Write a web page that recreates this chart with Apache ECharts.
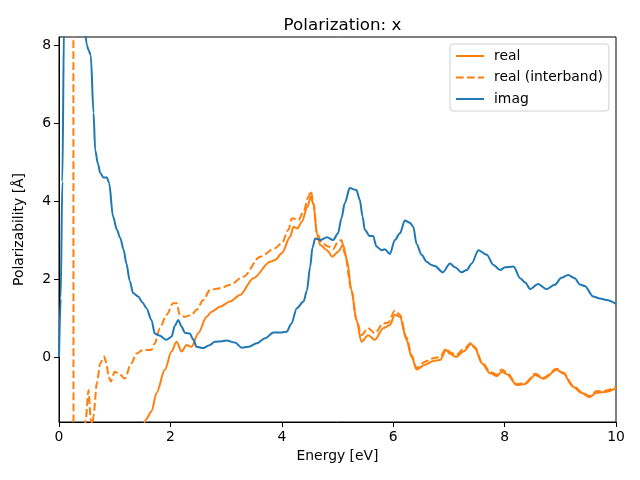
<!DOCTYPE html>
<html>
<head>
<meta charset="utf-8">
<script src="https://cdn.jsdelivr.net/npm/echarts@6/dist/echarts.min.js"></script>
<style>html,body{margin:0;padding:0;background:#fff}#c{width:640px;height:480px}</style>
</head>
<body>
<div id="c"></div>
<script>
const imagE = [0,0.03,0.06,0.09,0.15,0.3,0.45,0.5,0.53,0.57,0.62,0.65,0.7,0.74,0.8,0.86,0.9,0.97,1.04,1.1,1.16,1.21,1.27,1.33,1.42,1.5,1.57,1.66,1.72,1.8,1.93,2.02,2.08,2.14,2.2,2.26,2.35,2.41,2.47,2.59,2.7,2.8,2.9,3.01,3.16,3.28,3.4,3.55,3.7,3.85,4.0,4.09,4.17,4.27,4.39,4.45,4.51,4.55,4.6,4.69,4.81,4.92,5.01,5.07,5.13,5.22,5.34,5.4,5.45,5.49,5.58,5.64,5.7,5.79,5.85,5.94,6.03,6.12,6.21,6.3,6.36,6.42,6.51,6.6,6.69,6.75,6.89,7.02,7.11,7.23,7.32,7.41,7.53,7.68,7.8,7.92,8.01,8.16,8.28,8.37,8.46,8.6,8.75,8.9,9.02,9.14,9.26,9.35,9.44,9.59,9.71,9.83,10.0];
const imagV = [0,1.5,4.5,8.5,14,12,8.6,8.0,7.87,7.74,6.26,5.3,4.95,4.72,4.6,4.6,4.46,3.6,3.26,3.05,2.75,2.4,1.95,1.64,1.55,1.4,1.25,0.95,0.6,0.55,0.44,0.52,0.8,0.95,0.78,0.62,0.6,0.45,0.26,0.23,0.3,0.39,0.4,0.42,0.37,0.24,0.26,0.35,0.48,0.63,0.63,0.65,0.85,1.25,1.42,1.7,2.32,2.8,3.04,3.0,3.07,3.0,3.17,3.55,3.94,4.33,4.28,4.03,3.6,3.26,3.1,3.1,2.83,2.74,2.76,2.64,3.0,3.17,3.5,3.44,3.34,2.9,2.62,2.44,2.36,2.33,2.17,2.4,2.3,2.17,2.23,2.4,2.74,2.62,2.36,2.23,2.3,2.32,2.02,1.91,1.74,1.87,1.74,1.85,2.03,2.1,2.02,1.86,1.82,1.55,1.5,1.46,1.36];

const realE = [0,0.3,0.8,1.2,1.45,1.56,1.66,1.75,1.9,2.02,2.11,2.2,2.29,2.38,2.5,2.65,2.74,2.89,3.07,3.25,3.49,3.79,3.88,4.0,4.15,4.21,4.28,4.36,4.46,4.52,4.57,4.63,4.69,4.81,4.91,5.01,5.1,5.17,5.25,5.34,5.43,5.55,5.67,5.82,5.94,6.03,6.12,6.24,6.33,6.42,6.57,6.72,6.84,6.95,7.02,7.13,7.26,7.4,7.47,7.59,7.74,7.86,7.95,8.04,8.22,8.37,8.55,8.7,8.94,9.05,9.23,9.38,9.52,9.65,9.83,10.0];
const realV = [-60,-30,-10,-4,-2.2,-1.6,-1.4,-0.93,-0.33,0.14,0.39,0.14,0.31,0.26,0.61,1.03,1.16,1.29,1.42,1.59,2.02,2.44,2.49,2.66,3.08,3.34,3.3,3.47,3.85,4.11,3.9,3.17,2.87,2.74,2.57,2.7,2.87,2.49,1.72,0.95,0.39,0.56,0.44,0.74,0.82,1.08,1.03,0.44,0.0,-0.32,-0.2,-0.1,-0.08,0.18,0.08,0.0,0.14,0.33,0.22,-0.16,-0.42,-0.49,-0.38,-0.44,-0.72,-0.69,-0.46,-0.56,-0.33,-0.42,-0.76,-0.92,-1.03,-0.92,-0.89,-0.8];

const interE = [0,0.1,0.2,0.25,0.27,0.35,0.45,0.48,0.53,0.57,0.6,0.62,0.68,0.74,0.81,0.85,0.89,0.93,1.0,1.07,1.18,1.3,1.39,1.51,1.66,1.72,1.81,1.93,2.05,2.11,2.17,2.26,2.38,2.47,2.59,2.71,2.89,3.07,3.31,3.61,3.88,4.0,4.12,4.18,4.3,4.39,4.48,4.52,4.57,4.63,4.72,4.84,4.92,5.01,5.07,5.13,5.25,5.34,5.43,5.55,5.67,5.82,5.91,6.03,6.12,6.24,6.33,6.42,6.57,6.72,6.84,6.95,7.02,7.13,7.26,7.4,7.47,7.59,7.74,7.86,7.95,8.04,8.22,8.37,8.55,8.7,8.94,9.05,9.23,9.38,9.52,9.65,9.83,10.0];
const interV = [9,10,14,40,-40,-8,-2.0,-1.6,-0.85,-1.6,-1.75,-1.5,-0.67,-0.16,0.01,-0.15,-0.5,-0.63,-0.38,-0.42,-0.55,-0.16,0.09,0.18,0.18,0.35,0.74,1.08,1.38,1.38,1.08,1.03,1.08,1.21,1.46,1.72,1.76,1.85,2.06,2.57,2.79,2.92,3.26,3.56,3.51,3.73,4.11,4.26,3.94,3.17,2.92,2.83,2.76,2.96,3.0,2.66,1.72,0.95,0.56,0.74,0.61,0.86,0.88,1.19,1.08,0.5,0.05,-0.28,-0.12,-0.03,0.0,0.22,0.12,0.05,0.2,0.36,0.25,-0.12,-0.38,-0.45,-0.32,-0.4,-0.7,-0.66,-0.43,-0.53,-0.3,-0.4,-0.73,-0.9,-1.0,-0.88,-0.86,-0.76];

const xTicks = [0,2,4,6,8,10];
const yTicks = [0,2,4,6,8];

const pairs = (xs, ys) => xs.map((x, i) => [x, ys[i]]);
const FONT = 'DejaVu Sans';
const chart = echarts.init(document.getElementById('c'), null, {renderer: 'canvas'});
const lineW = 2;
chart.setOption({
  animation: false,
  backgroundColor: '#fff',
  title: {
    text: 'Polarization: x', left: 337.5, top: 12, textAlign: 'center',
    textStyle: {fontFamily: FONT, fontSize: 16.7, fontWeight: 'normal', color: '#000'}
  },
  grid: {left: 59, right: 24, top: 37, bottom: 58, show: true, borderColor: '#000', borderWidth: 1, backgroundColor: 'transparent'},
  legend: {
    orient: 'vertical', left: 450, top: 44,
    padding: [5, 6, 5, 5], itemGap: 7.5, itemWidth: 28, itemHeight: 14,
    borderColor: '#d0d0d0', borderWidth: 1, borderRadius: 3,
    itemStyle: {opacity: 0, borderWidth: 0},
    textStyle: {fontFamily: FONT, fontSize: 13.9, color: '#000', padding: [0, 0, 0, 5]},
    data: ['real', 'real (interband)', 'imag']
  },
  xAxis: {
    type: 'value', min: 0, max: 10,
    name: 'Energy [eV]', nameLocation: 'middle', nameGap: 25,
    nameTextStyle: {fontFamily: FONT, fontSize: 13.9, color: '#000'},
    axisLine: {show: true, onZero: false, lineStyle: {color: '#000', width: 1}},
    axisTick: {show: true, inside: false, length: 5, lineStyle: {color: '#000'}, customValues: xTicks},
    axisLabel: {fontFamily: FONT, fontSize: 13.9, color: '#000', margin: 8, customValues: xTicks},
    splitLine: {show: false}
  },
  yAxis: {
    type: 'value', min: -1.667, max: 8.205,
    name: 'Polarizability [Å]', nameLocation: 'middle', nameGap: 33, nameRotate: 90,
    nameTextStyle: {fontFamily: FONT, fontSize: 13.9, color: '#000'},
    axisLine: {show: true, onZero: false, lineStyle: {color: '#000', width: 1}},
    axisTick: {show: true, inside: false, length: 5, lineStyle: {color: '#000'}, customValues: yTicks},
    axisLabel: {fontFamily: FONT, fontSize: 13.9, color: '#000', margin: 8, customValues: yTicks},
    splitLine: {show: false}
  },
  series: [
    {name: 'real', type: 'line', data: pairs(realE, realV), symbol: 'none', smooth: 0.3, smoothMonotone: 'x', clip: true,
     lineStyle: {color: '#ff7f0e', width: lineW}, itemStyle: {color: '#ff7f0e'}},
    {name: 'real (interband)', type: 'line', data: pairs(interE, interV), symbol: 'none', smooth: 0.3, smoothMonotone: 'x', clip: true,
     lineStyle: {color: '#ff7f0e', width: lineW, type: [7.7, 3.3]}, itemStyle: {color: '#ff7f0e'}},
    {name: 'imag', type: 'line', data: pairs(imagE, imagV), symbol: 'none', smooth: 0.3, smoothMonotone: 'x', clip: true,
     lineStyle: {color: '#1f77b4', width: lineW}, itemStyle: {color: '#1f77b4'}}
  ]
});
</script>
</body>
</html>
